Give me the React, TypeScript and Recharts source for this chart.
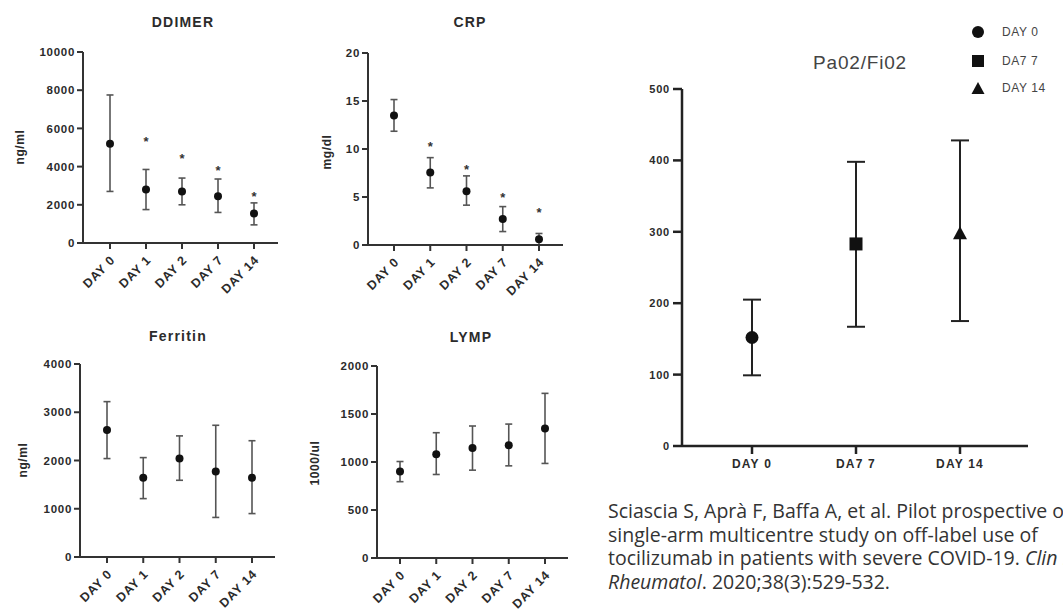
import React from "react";
import { LineChart, Line, XAxis, YAxis, ErrorBar } from "recharts";

// small panels: five time points
const days = ["DAY 0", "DAY 1", "DAY 2", "DAY 7", "DAY 14"];

const ddimerMean = [5200, 2800, 2700, 2450, 1550];
const ddimerLow = [2700, 1750, 2000, 1600, 950];
const ddimerHigh = [7750, 3850, 3400, 3350, 2100];
const ddimerStar = [null, 5500, 4600, 4000, 2600];
const ddimerTicks = [0, 2000, 4000, 6000, 8000, 10000];

const crpMean = [13.5, 7.55, 5.6, 2.7, 0.6];
const crpLow = [11.85, 5.95, 4.15, 1.4, 0];
const crpHigh = [15.15, 9.1, 7.2, 4.0, 1.2];
const crpStar = [null, 10.6, 8.2, 5.3, 3.7];
const crpTicks = [0, 5, 10, 15, 20];

const ferritinMean = [2630, 1640, 2040, 1770, 1640];
const ferritinLow = [2040, 1210, 1590, 820, 900];
const ferritinHigh = [3220, 2060, 2510, 2730, 2410];
const ferritinTicks = [0, 1000, 2000, 3000, 4000];

const lympMean = [900, 1080, 1145, 1175, 1350];
const lympLow = [795, 870, 915, 960, 985];
const lympHigh = [1005, 1305, 1375, 1395, 1715];
const lympTicks = [0, 500, 1000, 1500, 2000];

// big panel
const paDays = ["DAY 0", "DA7 7", "DAY 14"];
const paMean = [152, 283, 298];
const paLow = [99, 167, 175];
const paHigh = [205, 398, 428];
const paTicks = [0, 100, 200, 300, 400, 500];

const FONT = "'Liberation Sans', Arial, sans-serif";
const INK = "#2b2b2b";

const SlantTick = (props: any) => {
  const { x, y, payload } = props;
  return (
    <g transform={`translate(${x + 3},${y + 7})`}>
      <text
        transform="rotate(-45)"
        textAnchor="end"
        dy={4}
        fontFamily={FONT}
        fontWeight="bold"
        fontSize={12.5}
        letterSpacing={0.8}
        fill={INK}
      >
        {payload.value}
      </text>
    </g>
  );
};

const makeYTick = (size: number, spacing: number) => (props: any) => {
  const { x, y, payload } = props;
  return (
    <text
      x={x}
      y={y}
      dy={size * 0.36}
      textAnchor="end"
      fontFamily={FONT}
      fontWeight="bold"
      fontSize={size}
      letterSpacing={spacing}
      fill={INK}
    >
      {payload.value}
    </text>
  );
};

const SmallYTick = makeYTick(11.5, 0.7);
const BigYTick = makeYTick(11, 0.8);

const BigXTick = (props: any) => {
  const { x, y, payload } = props;
  return (
    <text
      x={x}
      y={y}
      dy={12}
      textAnchor="middle"
      fontFamily={FONT}
      fontWeight="bold"
      fontSize={12}
      letterSpacing={1.2}
      fill={INK}
    >
      {payload.value}
    </text>
  );
};

const smallDot = (props: any) => {
  const { cx, cy, index } = props;
  if (cx == null || cy == null) return <g key={`d-${index}`} />;
  return <circle key={`d-${index}`} cx={cx} cy={cy} r={4} fill="#111" />;
};

const starDot = (props: any) => {
  const { cx, cy, index } = props;
  if (cx == null || cy == null) return <g key={`s-${index}`} />;
  return (
    <text
      key={`s-${index}`}
      x={cx}
      y={cy + 8}
      textAnchor="middle"
      fontFamily={FONT}
      fontWeight="bold"
      fontSize={13}
      fill="#333"
    >
      *
    </text>
  );
};

const shapeDot = (props: any) => {
  const { cx, cy, index } = props;
  if (cx == null || cy == null) return <g key={`p-${index}`} />;
  if (index === 0) return <circle key={`p-${index}`} cx={cx} cy={cy} r={6.5} fill="#111" />;
  if (index === 1)
    return <rect key={`p-${index}`} x={cx - 6.5} y={cy - 6.5} width={13} height={13} fill="#111" />;
  return (
    <polygon
      key={`p-${index}`}
      points={`${cx},${cy - 7} ${cx - 7},${cy + 6} ${cx + 7},${cy + 6}`}
      fill="#111"
    />
  );
};

type PanelProps = {
  axisX: number;
  plotTop: number;
  plotBottom: number;
  plotRight: number;
  firstX: number;
  lastX: number;
  mean: number[];
  low: number[];
  high: number[];
  star?: (number | null)[];
  ticks: number[];
  title: string;
  titleX: number;
  titleY: number;
  unit: string;
  unitX: number;
  unitY: number;
};

function Panel(p: PanelProps) {
  const yw = 60;
  const mt = 10;
  const mr = 10;
  const xh = 70;
  const L = p.axisX - yw;
  const T = p.plotTop - mt;
  const W = p.plotRight - L + mr;
  const H = p.plotBottom - T + xh;
  const data = days.map((d, i) => ({
    day: d,
    mean: p.mean[i],
    err: [p.mean[i] - p.low[i], p.high[i] - p.mean[i]],
    star: p.star ? p.star[i] : null,
  }));
  const axisStyle = { stroke: "#333", strokeWidth: 2 };
  return (
    <>
      <div
        style={{
          position: "absolute",
          left: p.titleX - 100,
          top: p.titleY - 10,
          width: 200,
          lineHeight: "20px",
          textAlign: "center",
          fontFamily: FONT,
          fontWeight: "bold",
          fontSize: 14,
          letterSpacing: 1.2,
          color: INK,
        }}
      >
        {p.title}
      </div>
      <div
        style={{
          position: "absolute",
          left: p.unitX,
          top: p.unitY,
          transform: "translate(-50%,-50%) rotate(-90deg)",
          whiteSpace: "nowrap",
          fontFamily: FONT,
          fontWeight: "bold",
          fontSize: 12,
          letterSpacing: 0.6,
          color: INK,
        }}
      >
        {p.unit}
      </div>
      <div style={{ position: "absolute", left: L, top: T }}>
        <LineChart width={W} height={H} data={data} margin={{ top: mt, right: mr, bottom: 0, left: 0 }}>
          <XAxis
            dataKey="day"
            type="category"
            scale="point"
            interval={0}
            height={xh}
            padding={{ left: p.firstX - p.axisX, right: p.plotRight - p.lastX }}
            tick={<SlantTick />}
            tickSize={6}
            tickMargin={2}
            axisLine={axisStyle}
            tickLine={axisStyle}
          />
          <YAxis
            type="number"
            width={yw}
            domain={[0, p.ticks[p.ticks.length - 1]]}
            ticks={p.ticks}
            interval={0}
            tick={<SmallYTick />}
            tickSize={6}
            tickMargin={2}
            axisLine={axisStyle}
            tickLine={axisStyle}
          />
          <Line dataKey="mean" stroke="none" isAnimationActive={false} dot={smallDot} activeDot={false}>
            <ErrorBar dataKey="err" direction="y" width={3.5} strokeWidth={1.6} stroke="#555" />
          </Line>
          {p.star && (
            <Line dataKey="star" stroke="none" isAnimationActive={false} dot={starDot} activeDot={false} />
          )}
        </LineChart>
      </div>
    </>
  );
}

function PaPanel() {
  const axisX = 682;
  const plotTop = 89;
  const plotBottom = 446;
  const plotRight = 1028;
  const yw = 60;
  const mt = 10;
  const mr = 10;
  const xh = 40;
  const L = axisX - yw;
  const T = plotTop - mt;
  const data = paDays.map((d, i) => ({
    day: d,
    mean: paMean[i],
    err: [paMean[i] - paLow[i], paHigh[i] - paMean[i]],
  }));
  const axisStyle = { stroke: "#222", strokeWidth: 2.5 };
  const legend = [
    { label: "DAY 0", y: 32 },
    { label: "DA7 7", y: 61 },
    { label: "DAY 14", y: 88 },
  ];
  return (
    <>
      <div
        style={{
          position: "absolute",
          left: 760,
          top: 51,
          width: 200,
          lineHeight: "24px",
          textAlign: "center",
          fontFamily: FONT,
          fontSize: 19,
          letterSpacing: 0.8,
          color: "#444",
        }}
      >
        Pa02/Fi02
      </div>
      {legend.map((it, i) => (
        <div key={it.label} style={{ position: "absolute", left: 968, top: it.y - 10, height: 20, display: "flex", alignItems: "center" }}>
          <svg width={20} height={20}>
            {i === 0 && <circle cx={10} cy={10} r={6} fill="#111" />}
            {i === 1 && <rect x={4} y={4} width={12} height={12} fill="#111" />}
            {i === 2 && <polygon points="10,4 3.5,16 16.5,16" fill="#111" />}
          </svg>
          <span style={{ marginLeft: 14, fontFamily: FONT, fontSize: 12, letterSpacing: 0.6, color: "#444" }}>
            {it.label}
          </span>
        </div>
      ))}
      <div style={{ position: "absolute", left: L, top: T }}>
        <LineChart
          width={plotRight - L + mr}
          height={plotBottom - T + xh}
          data={data}
          margin={{ top: mt, right: mr, bottom: 0, left: 0 }}
        >
          <XAxis
            dataKey="day"
            type="category"
            scale="point"
            interval={0}
            height={xh}
            padding={{ left: 752 - axisX, right: plotRight - 960 }}
            tick={<BigXTick />}
            tickSize={8}
            tickMargin={2}
            axisLine={axisStyle}
            tickLine={axisStyle}
          />
          <YAxis
            type="number"
            width={yw}
            domain={[0, 500]}
            ticks={paTicks}
            interval={0}
            tick={<BigYTick />}
            tickSize={9}
            tickMargin={3}
            axisLine={axisStyle}
            tickLine={axisStyle}
          />
          <Line dataKey="mean" stroke="none" isAnimationActive={false} dot={shapeDot} activeDot={false}>
            <ErrorBar dataKey="err" direction="y" width={9} strokeWidth={2} stroke="#222" />
          </Line>
        </LineChart>
      </div>
    </>
  );
}

export default function App() {
  return (
    <div
      style={{
        position: "absolute",
        left: 0,
        top: 0,
        width: 1063,
        height: 611,
        overflow: "hidden",
        background: "#fff",
      }}
    >
      <Panel
        axisX={83}
        plotTop={52}
        plotBottom={243}
        plotRight={278}
        firstX={110}
        lastX={254}
        mean={ddimerMean}
        low={ddimerLow}
        high={ddimerHigh}
        star={ddimerStar}
        ticks={ddimerTicks}
        title="DDIMER"
        titleX={183}
        titleY={22}
        unit="ng/ml"
        unitX={20}
        unitY={147}
      />
      <Panel
        axisX={368}
        plotTop={53}
        plotBottom={245}
        plotRight={563}
        firstX={394}
        lastX={539}
        mean={crpMean}
        low={crpLow}
        high={crpHigh}
        star={crpStar}
        ticks={crpTicks}
        title="CRP"
        titleX={470}
        titleY={22}
        unit="mg/dl"
        unitX={327}
        unitY={152}
      />
      <Panel
        axisX={80}
        plotTop={364}
        plotBottom={557}
        plotRight={275}
        firstX={107}
        lastX={252}
        mean={ferritinMean}
        low={ferritinLow}
        high={ferritinHigh}
        ticks={ferritinTicks}
        title="Ferritin"
        titleX={178}
        titleY={336}
        unit="ng/ml"
        unitX={23}
        unitY={460}
      />
      <Panel
        axisX={377}
        plotTop={366}
        plotBottom={558}
        plotRight={568}
        firstX={400}
        lastX={545}
        mean={lympMean}
        low={lympLow}
        high={lympHigh}
        ticks={lympTicks}
        title="LYMP"
        titleX={471}
        titleY={337}
        unit="1000/ul"
        unitX={315}
        unitY={463}
      />
      <PaPanel />
      <div
        style={{
          position: "absolute",
          left: 608,
          top: 499,
          whiteSpace: "nowrap",
          fontFamily: "'Open Sans', Lato, sans-serif",
          fontSize: 19.5,
          lineHeight: "23.5px",
          color: "#333",
        }}
      >
        <div>Sciascia S, Aprà F, Baffa A, et al. Pilot prospective open,</div>
        <div>single-arm multicentre study on off-label use of</div>
        <div>
          tocilizumab in patients with severe COVID-19. <i>Clin Exp</i>
        </div>
        <div>
          <i>Rheumatol</i>. 2020;38(3):529-532.
        </div>
      </div>
    </div>
  );
}
